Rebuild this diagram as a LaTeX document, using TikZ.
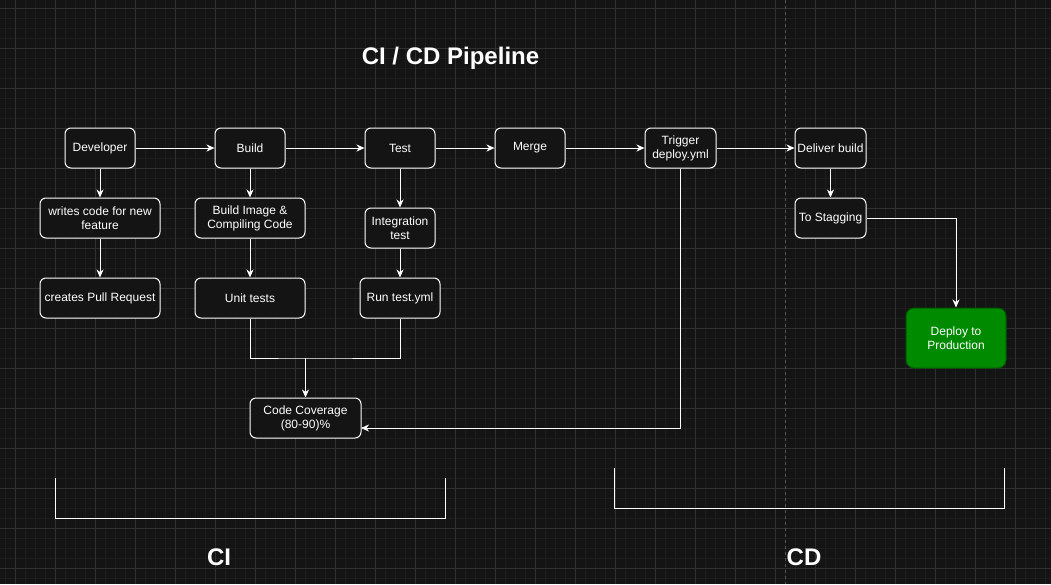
\documentclass[tikz,border=0pt]{standalone}
\usepackage{fontspec}
\setmainfont{Liberation Sans}
\usetikzlibrary{arrows.meta}
\definecolor{bg}{HTML}{141414}
\definecolor{gridminor}{HTML}{1D1D1D}
\definecolor{gridmajor}{HTML}{303030}
\definecolor{boxfill}{HTML}{141414}
\definecolor{prodfill}{HTML}{008A00}
\definecolor{prodline}{HTML}{005700}
\definecolor{sepline}{HTML}{555555}
\begin{document}
\begin{tikzpicture}[x=1pt,y=-1pt,
  box/.style={draw=white, line width=1pt, rounded corners=6pt, fill=boxfill,
    text=white, font=\fontsize{12}{14}\selectfont, align=center, inner sep=0pt},
  conn/.style={draw=white, line width=1pt, -{Stealth[length=8pt,width=7pt,inset=2.5pt]}},
  plainline/.style={draw=white, line width=1pt},
  bigtext/.style={text=white, font=\fontsize{24}{28}\selectfont\bfseries}]
\fill[bg] (0,0) rectangle (1051,584);
\useasboundingbox (0,0) rectangle (1051,584);
% grid
\foreach \x in {5,15,...,1050} \draw[gridminor, line width=1pt] (\x,0) -- (\x,584);
\foreach \y in {8,18,...,584} \draw[gridminor, line width=1pt] (0,\y) -- (1051,\y);
\foreach \x in {15,55,...,1050} \draw[gridmajor, line width=1pt] (\x,0) -- (\x,584);
\foreach \y in {8,48,...,584} \draw[gridmajor, line width=1pt] (0,\y) -- (1051,\y);
% separator
\draw[sepline, line width=1pt, dash pattern=on 3pt off 3pt] (785,0) -- (785,584);
% title
\node[bigtext] (title) at (450.5,58) {CI / CD Pipeline};
% nodes
\node[box, minimum width=70pt, minimum height=40pt] (dev) at (100,148) {Developer};
\node[box, minimum width=70pt, minimum height=40pt] (build) at (250,148) {Build};
\node[box, minimum width=70pt, minimum height=40pt] (test) at (400,148) {Test};
\node[box, minimum width=70pt, minimum height=40pt] (merge) at (530,148) {Merge};
\node[box, minimum width=71pt, minimum height=40pt] (trig) at (680.5,148) {Trigger\\deploy.yml};
\node[box, minimum width=71pt, minimum height=40pt] (deliv) at (830.5,148) {Deliver build};
\node[box, minimum width=71pt, minimum height=40pt] (stag) at (830.5,218) {To Stagging};
\node[box, draw=prodline, fill=prodfill, rounded corners=8pt, minimum width=100pt, minimum height=60pt] (prod) at (956,338) {Deploy to\\Production};
\node[box, minimum width=120pt, minimum height=40pt] (writes) at (100,218) {writes code for new\\feature};
\node[box, minimum width=120pt, minimum height=40pt] (pr) at (100,298) {creates Pull Request};
\node[box, minimum width=110pt, minimum height=40pt] (img) at (250,218) {Build Image \&\\Compiling Code};
\node[box, minimum width=110pt, minimum height=40pt] (unit) at (250,298) {Unit tests};
\node[box, minimum width=70pt, minimum height=40pt] (integ) at (400,228) {Integration\\test};
\node[box, minimum width=80pt, minimum height=40pt] (run) at (400,298) {Run test.yml};
\node[box, minimum width=111pt, minimum height=40pt] (cov) at (305.5,418) {Code Coverage\\(80-90)\%};
% connectors
\draw[conn] (dev) -- (build);
\draw[conn] (build) -- (test);
\draw[conn] (test) -- (merge);
\draw[conn] (merge) -- (trig);
\draw[conn] (trig) -- (deliv);
\draw[conn] (dev) -- (writes);
\draw[conn] (writes) -- (pr);
\draw[conn] (build) -- (img);
\draw[conn] (img) -- (unit);
\draw[conn] (test) -- (integ);
\draw[conn] (integ) -- (run);
\draw[conn] (deliv) -- (stag);
\coordinate (join) at (305.5,358);
\draw[plainline] (unit.south) |- (join) -| (run.south);
\draw[conn] (join) -- (cov.north);
\coordinate (covin) at (361,428);
\draw[conn] (trig.south) |- (covin);
\draw[conn] (stag.east) -| (prod.north);
% brackets
\draw[plainline] (55,478) -- (55,518) -- (445,518) -- (445,478);
\draw[plainline] (614,468) -- (614,508) -- (1004,508) -- (1004,468);
\node[bigtext] (ci) at (219,557) {CI};
\node[bigtext] (cd) at (804,557) {CD};
\end{tikzpicture}
\end{document}
